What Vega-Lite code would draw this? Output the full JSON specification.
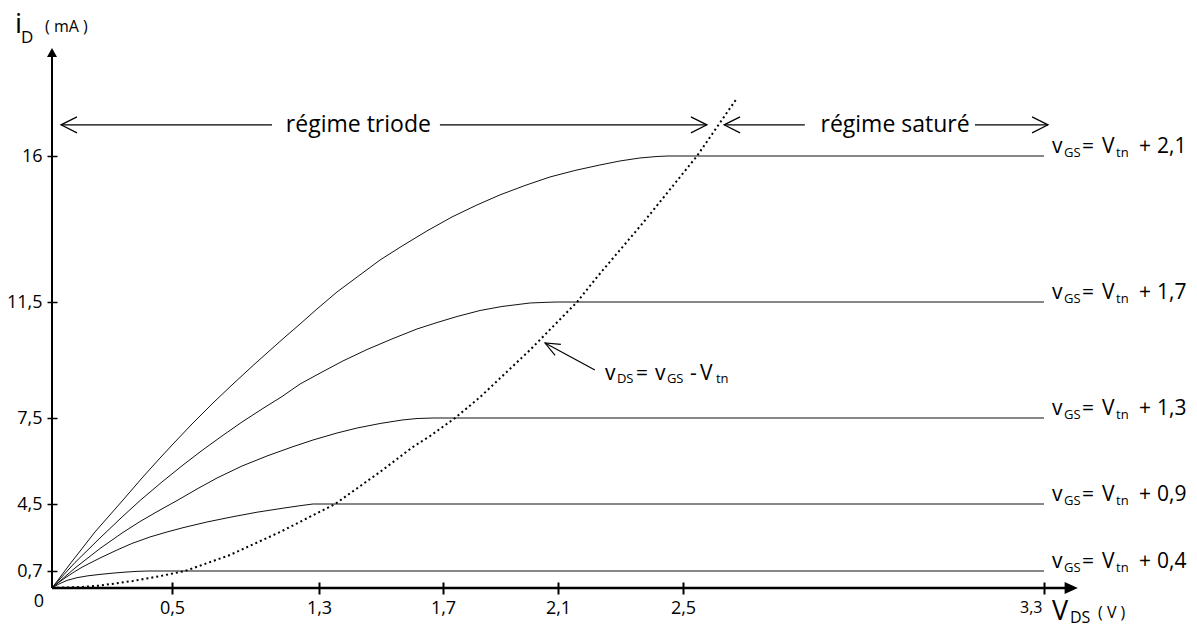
{
  "$schema": "https://vega.github.io/schema/vega-lite/v6.json",
  "width": 1145,
  "height": 588,
  "padding": {"left": 52, "right": 0, "top": 0, "bottom": 40},
  "autosize": {"type": "none"},
  "background": "white",
  "config": {"view": {"stroke": null}, "font": "Open Sans", "text": {"font": "Open Sans", "color": "black"}},
  "datasets": {
    "curves": [
      {"c": "0,4", "x": 0, "y": 0}, {"c": "0,4", "x": 0.029, "y": 0.165}, {"c": "0,4", "x": 0.0625, "y": 0.313}, {"c": "0,4", "x": 0.104, "y": 0.424}, {"c": "0,4", "x": 0.15, "y": 0.502}, {"c": "0,4", "x": 0.2, "y": 0.56}, {"c": "0,4", "x": 0.25, "y": 0.609}, {"c": "0,4", "x": 0.3, "y": 0.65}, {"c": "0,4", "x": 0.35, "y": 0.683}, {"c": "0,4", "x": 0.4, "y": 0.7}, {"c": "0,4", "x": 3.3, "y": 0.7},
      {"c": "0,9", "x": 0, "y": 0}, {"c": "0,9", "x": 0.025, "y": 0.206}, {"c": "0,9", "x": 0.054, "y": 0.412}, {"c": "0,9", "x": 0.092, "y": 0.659}, {"c": "0,9", "x": 0.129, "y": 0.944}, {"c": "0,9", "x": 0.2, "y": 1.437}, {"c": "0,9", "x": 0.271, "y": 1.891}, {"c": "0,9", "x": 0.333, "y": 2.26}, {"c": "0,9", "x": 0.408, "y": 2.629}, {"c": "0,9", "x": 0.479, "y": 2.912}, {"c": "0,9", "x": 0.56, "y": 3.156}, {"c": "0,9", "x": 0.69, "y": 3.479}, {"c": "0,9", "x": 0.832, "y": 3.78}, {"c": "0,9", "x": 0.963, "y": 4.035}, {"c": "0,9", "x": 1.104, "y": 4.262}, {"c": "0,9", "x": 1.197, "y": 4.404}, {"c": "0,9", "x": 1.267, "y": 4.5}, {"c": "0,9", "x": 3.3, "y": 4.5},
      {"c": "1,3", "x": 0, "y": 0}, {"c": "1,3", "x": 0.05, "y": 0.432}, {"c": "1,3", "x": 0.096, "y": 0.87}, {"c": "1,3", "x": 0.2, "y": 1.976}, {"c": "1,3", "x": 0.292, "y": 2.855}, {"c": "1,3", "x": 0.367, "y": 3.508}, {"c": "1,3", "x": 0.45, "y": 4.16}, {"c": "1,3", "x": 0.533, "y": 4.64}, {"c": "1,3", "x": 0.636, "y": 5.023}, {"c": "1,3", "x": 0.745, "y": 5.407}, {"c": "1,3", "x": 0.881, "y": 5.825}, {"c": "1,3", "x": 1.017, "y": 6.174}, {"c": "1,3", "x": 1.153, "y": 6.488}, {"c": "1,3", "x": 1.267, "y": 6.732}, {"c": "1,3", "x": 1.358, "y": 6.976}, {"c": "1,3", "x": 1.423, "y": 7.151}, {"c": "1,3", "x": 1.497, "y": 7.308}, {"c": "1,3", "x": 1.568, "y": 7.43}, {"c": "1,3", "x": 1.616, "y": 7.482}, {"c": "1,3", "x": 1.668, "y": 7.5}, {"c": "1,3", "x": 3.3, "y": 7.5},
      {"c": "1,7", "x": 0, "y": 0}, {"c": "1,7", "x": 0.05, "y": 0.556}, {"c": "1,7", "x": 0.096, "y": 1.182}, {"c": "1,7", "x": 0.2, "y": 2.572}, {"c": "1,7", "x": 0.292, "y": 3.763}, {"c": "1,7", "x": 0.367, "y": 4.622}, {"c": "1,7", "x": 0.458, "y": 5.267}, {"c": "1,7", "x": 0.56, "y": 5.86}, {"c": "1,7", "x": 0.663, "y": 6.366}, {"c": "1,7", "x": 0.772, "y": 6.872}, {"c": "1,7", "x": 0.881, "y": 7.36}, {"c": "1,7", "x": 0.99, "y": 7.81}, {"c": "1,7", "x": 1.099, "y": 8.241}, {"c": "1,7", "x": 1.197, "y": 8.672}, {"c": "1,7", "x": 1.31, "y": 9.086}, {"c": "1,7", "x": 1.377, "y": 9.466}, {"c": "1,7", "x": 1.455, "y": 9.862}, {"c": "1,7", "x": 1.539, "y": 10.241}, {"c": "1,7", "x": 1.616, "y": 10.569}, {"c": "1,7", "x": 1.681, "y": 10.793}, {"c": "1,7", "x": 1.749, "y": 11.0}, {"c": "1,7", "x": 1.829, "y": 11.207}, {"c": "1,7", "x": 1.905, "y": 11.345}, {"c": "1,7", "x": 2.003, "y": 11.466}, {"c": "1,7", "x": 2.062, "y": 11.49}, {"c": "1,7", "x": 2.097, "y": 11.5}, {"c": "1,7", "x": 3.3, "y": 11.5},
      {"c": "2,1", "x": 0, "y": 0}, {"c": "2,1", "x": 0.075, "y": 1.097}, {"c": "2,1", "x": 0.179, "y": 2.912}, {"c": "2,1", "x": 0.296, "y": 4.64}, {"c": "2,1", "x": 0.375, "y": 5.407}, {"c": "2,1", "x": 0.45, "y": 6.104}, {"c": "2,1", "x": 0.516, "y": 6.663}, {"c": "2,1", "x": 0.614, "y": 7.325}, {"c": "2,1", "x": 0.723, "y": 8.017}, {"c": "2,1", "x": 0.832, "y": 8.672}, {"c": "2,1", "x": 0.941, "y": 9.31}, {"c": "2,1", "x": 1.017, "y": 9.741}, {"c": "2,1", "x": 1.115, "y": 10.293}, {"c": "2,1", "x": 1.197, "y": 10.741}, {"c": "2,1", "x": 1.289, "y": 11.259}, {"c": "2,1", "x": 1.358, "y": 11.808}, {"c": "2,1", "x": 1.423, "y": 12.271}, {"c": "2,1", "x": 1.497, "y": 12.795}, {"c": "2,1", "x": 1.568, "y": 13.226}, {"c": "2,1", "x": 1.648, "y": 13.689}, {"c": "2,1", "x": 1.731, "y": 14.12}, {"c": "2,1", "x": 1.818, "y": 14.49}, {"c": "2,1", "x": 1.898, "y": 14.8}, {"c": "2,1", "x": 1.985, "y": 15.091}, {"c": "2,1", "x": 2.072, "y": 15.353}, {"c": "2,1", "x": 2.154, "y": 15.554}, {"c": "2,1", "x": 2.234, "y": 15.723}, {"c": "2,1", "x": 2.298, "y": 15.846}, {"c": "2,1", "x": 2.362, "y": 15.939}, {"c": "2,1", "x": 2.417, "y": 15.985}, {"c": "2,1", "x": 2.452, "y": 16}, {"c": "2,1", "x": 3.3, "y": 16}
    ],
    "boundary": [
      {"x": 0, "y": 0}, {"x": 0.117, "y": 0.04}, {"x": 0.2, "y": 0.1}, {"x": 0.3375, "y": 0.29}, {"x": 0.45, "y": 0.49}, {"x": 0.571, "y": 0.7}, {"x": 0.816, "y": 1.61}, {"x": 1.088, "y": 2.91}, {"x": 1.352, "y": 4.5}, {"x": 1.497, "y": 5.62}, {"x": 1.603, "y": 6.49}, {"x": 1.658, "y": 6.87}, {"x": 1.742, "y": 7.5}, {"x": 1.829, "y": 8.22}, {"x": 2.003, "y": 9.85}, {"x": 2.161, "y": 11.5}, {"x": 2.225, "y": 12.27}, {"x": 2.372, "y": 13.94}, {"x": 2.531, "y": 16}, {"x": 2.617, "y": 17.73}
    ],
    "labels": [
      {"lvl": 0.7, "n": "0,4"}, {"lvl": 4.5, "n": "0,9"}, {"lvl": 7.5, "n": "1,3"}, {"lvl": 11.5, "n": "1,7"}, {"lvl": 16, "n": "2,1"}
    ],
    "segs": [
      {"a": 0.0375, "b": 1.044}, {"a": 1.69, "b": 2.553}, {"a": 2.591, "b": 2.77}, {"a": 3.147, "b": 3.309}
    ],
    "heads": [
      {"x": 0.0375, "dir": "left"}, {"x": 2.553, "dir": "right"}, {"x": 2.591, "dir": "left"}, {"x": 3.309, "dir": "right"}
    ],
    "regimes": [
      {"x": 1.427, "t": "régime triode"}, {"x": 2.97, "t": "régime saturé"}
    ],
    "one": [{}]
  },
  "layer": [
    {
      "data": {"name": "curves"},
      "mark": {"type": "line", "color": "#111111", "strokeWidth": 1},
      "encoding": {
        "x": {"field": "x", "type": "quantitative",
          "scale": {"domain": [0, 0.5, 1.3, 1.7, 2.1, 2.5, 3.3], "range": [0, 120, 267, 391, 506, 631, 992], "zero": false, "nice": false},
          "axis": {"values": [0.5, 1.3, 1.7, 2.1, 2.5, 3.3], "orient": "bottom", "offset": -6, "tickSize": 12, "tickWidth": 2, "tickColor": "black", "domain": false, "grid": false, "labelExpr": "datum.value == 3.3 ? '' : replace(toString(datum.value), '.', ',')", "labelFont": "Open Sans", "labelFontSize": 18, "labelColor": "black", "labelPadding": 5, "labelFlush": false, "labelOverlap": false, "title": null}},
        "y": {"field": "y", "type": "quantitative",
          "scale": {"domain": [0, 0.7, 4.5, 7.5, 11.5, 16], "range": [588, 571, 504, 418, 302, 156], "zero": false, "nice": false},
          "axis": {"values": [0.7, 4.5, 7.5, 11.5, 16], "orient": "left", "offset": -5, "tickSize": 10, "tickWidth": 1.5, "tickColor": "black", "domain": false, "grid": false, "labelExpr": "replace(toString(datum.value), '.', ',')", "labelFont": "Open Sans", "labelFontSize": 18, "labelColor": "black", "labelPadding": 5, "labelFlush": false, "labelOverlap": false, "title": null}},
        "detail": {"field": "c", "type": "nominal"}
      }
    },
    {
      "data": {"name": "boundary"},
      "mark": {"type": "line", "color": "black", "strokeWidth": 2, "strokeDash": [2, 3]},
      "encoding": {"x": {"field": "x", "type": "quantitative"}, "y": {"field": "y", "type": "quantitative"}}
    },
    {
      "data": {"name": "one"},
      "mark": {"type": "rule", "color": "black", "strokeWidth": 2.5},
      "encoding": {"x": {"datum": 0, "type": "quantitative"}, "x2": {"datum": 3.36}, "y": {"datum": 0, "type": "quantitative"}}
    },
    {
      "data": {"name": "one"},
      "mark": {"type": "rule", "color": "black", "strokeWidth": 2},
      "encoding": {"x": {"datum": 0, "type": "quantitative"}, "y": {"datum": 0, "type": "quantitative"}, "y2": {"datum": 19.2}}
    },
    {
      "data": {"name": "one"},
      "mark": {"type": "point", "shape": "M0,0L-2.2,-1L-2.2,1Z", "size": 144, "filled": true, "color": "black", "opacity": 1},
      "encoding": {"x": {"datum": 3.375, "type": "quantitative"}, "y": {"datum": 0, "type": "quantitative"}}
    },
    {
      "data": {"name": "one"},
      "mark": {"type": "point", "shape": "M0,0L-1,1.8L1,1.8Z", "size": 100, "filled": true, "color": "black", "opacity": 1},
      "encoding": {"x": {"datum": 0, "type": "quantitative"}, "y": {"datum": 19.33, "type": "quantitative"}}
    },
    {
      "data": {"name": "segs"},
      "mark": {"type": "rule", "color": "black", "strokeWidth": 1.2},
      "encoding": {"x": {"field": "a", "type": "quantitative"}, "x2": {"field": "b"}, "y": {"datum": 16.96, "type": "quantitative"}}
    },
    {
      "data": {"name": "heads"},
      "mark": {"type": "point", "size": 256, "filled": false, "color": "black", "strokeWidth": 1.2, "opacity": 1},
      "encoding": {
        "x": {"field": "x", "type": "quantitative"},
        "y": {"datum": 16.96, "type": "quantitative"},
        "shape": {"field": "dir", "type": "nominal", "scale": {"domain": ["left", "right"], "range": ["M2,-1L0,0L2,1", "M-2,-1L0,0L-2,1"]}, "legend": null}
      }
    },
    {
      "data": {"name": "regimes"},
      "mark": {"type": "text", "fontSize": 23, "align": "center", "baseline": "middle", "font": "Open Sans"},
      "encoding": {"x": {"field": "x", "type": "quantitative"}, "y": {"datum": 16.96, "type": "quantitative"}, "text": {"field": "t"}}
    },
    {
      "data": {"name": "one"},
      "mark": {"type": "rule", "color": "black", "strokeWidth": 1.2},
      "encoding": {"x": {"datum": 2.055, "type": "quantitative"}, "y": {"datum": 10.086, "type": "quantitative"}, "x2": {"datum": 2.218}, "y2": {"datum": 9.155}}
    },
    {
      "data": {"name": "one"},
      "mark": {"type": "point", "shape": "M1.9,-0.8L0,0L1.9,0.8", "size": 237, "angle": 28, "filled": false, "color": "black", "strokeWidth": 1.2, "opacity": 1},
      "encoding": {"x": {"datum": 2.055, "type": "quantitative"}, "y": {"datum": 10.086, "type": "quantitative"}}
    },
    {"data": {"name": "one"}, "mark": {"type": "text", "text": "v", "fontSize": 21, "align": "left", "baseline": "alphabetic", "dx": 10, "dy": 10}, "encoding": {"x": {"datum": 2.218, "type": "quantitative"}, "y": {"datum": 9.155, "type": "quantitative"}}},
    {"data": {"name": "one"}, "mark": {"type": "text", "text": "DS", "fontSize": 13, "align": "left", "baseline": "alphabetic", "dx": 22, "dy": 13}, "encoding": {"x": {"datum": 2.218, "type": "quantitative"}, "y": {"datum": 9.155, "type": "quantitative"}}},
    {"data": {"name": "one"}, "mark": {"type": "text", "text": "=", "fontSize": 21, "align": "left", "baseline": "alphabetic", "dx": 41, "dy": 10}, "encoding": {"x": {"datum": 2.218, "type": "quantitative"}, "y": {"datum": 9.155, "type": "quantitative"}}},
    {"data": {"name": "one"}, "mark": {"type": "text", "text": "v", "fontSize": 21, "align": "left", "baseline": "alphabetic", "dx": 60, "dy": 10}, "encoding": {"x": {"datum": 2.218, "type": "quantitative"}, "y": {"datum": 9.155, "type": "quantitative"}}},
    {"data": {"name": "one"}, "mark": {"type": "text", "text": "GS", "fontSize": 13, "align": "left", "baseline": "alphabetic", "dx": 72, "dy": 13}, "encoding": {"x": {"datum": 2.218, "type": "quantitative"}, "y": {"datum": 9.155, "type": "quantitative"}}},
    {"data": {"name": "one"}, "mark": {"type": "text", "text": "-", "fontSize": 21, "align": "left", "baseline": "alphabetic", "dx": 95, "dy": 10}, "encoding": {"x": {"datum": 2.218, "type": "quantitative"}, "y": {"datum": 9.155, "type": "quantitative"}}},
    {"data": {"name": "one"}, "mark": {"type": "text", "text": "V", "fontSize": 21, "align": "left", "baseline": "alphabetic", "dx": 105, "dy": 10}, "encoding": {"x": {"datum": 2.218, "type": "quantitative"}, "y": {"datum": 9.155, "type": "quantitative"}}},
    {"data": {"name": "one"}, "mark": {"type": "text", "text": "tn", "fontSize": 13, "align": "left", "baseline": "alphabetic", "dx": 121, "dy": 13}, "encoding": {"x": {"datum": 2.218, "type": "quantitative"}, "y": {"datum": 9.155, "type": "quantitative"}}},
    {"data": {"name": "labels"}, "mark": {"type": "text", "text": "v", "fontSize": 21, "align": "left", "baseline": "alphabetic", "dx": 8, "dy": -3}, "encoding": {"x": {"datum": 3.3, "type": "quantitative"}, "y": {"field": "lvl", "type": "quantitative"}}},
    {"data": {"name": "labels"}, "mark": {"type": "text", "text": "GS", "fontSize": 13, "align": "left", "baseline": "alphabetic", "dx": 20, "dy": 1}, "encoding": {"x": {"datum": 3.3, "type": "quantitative"}, "y": {"field": "lvl", "type": "quantitative"}}},
    {"data": {"name": "labels"}, "mark": {"type": "text", "text": "=", "fontSize": 21, "align": "left", "baseline": "alphabetic", "dx": 38, "dy": -3}, "encoding": {"x": {"datum": 3.3, "type": "quantitative"}, "y": {"field": "lvl", "type": "quantitative"}}},
    {"data": {"name": "labels"}, "mark": {"type": "text", "text": "V", "fontSize": 21, "align": "left", "baseline": "alphabetic", "dx": 58, "dy": -3}, "encoding": {"x": {"datum": 3.3, "type": "quantitative"}, "y": {"field": "lvl", "type": "quantitative"}}},
    {"data": {"name": "labels"}, "mark": {"type": "text", "text": "tn", "fontSize": 13, "align": "left", "baseline": "alphabetic", "dx": 72, "dy": 1}, "encoding": {"x": {"datum": 3.3, "type": "quantitative"}, "y": {"field": "lvl", "type": "quantitative"}}},
    {"data": {"name": "labels"}, "mark": {"type": "text", "text": "+", "fontSize": 21, "align": "left", "baseline": "alphabetic", "dx": 95, "dy": -3}, "encoding": {"x": {"datum": 3.3, "type": "quantitative"}, "y": {"field": "lvl", "type": "quantitative"}}},
    {"data": {"name": "labels"}, "mark": {"type": "text", "fontSize": 21, "align": "left", "baseline": "alphabetic", "dx": 113, "dy": -3}, "encoding": {"x": {"datum": 3.3, "type": "quantitative"}, "y": {"field": "lvl", "type": "quantitative"}, "text": {"field": "n"}}},
    {"data": {"name": "one"}, "mark": {"type": "text", "text": "i", "fontSize": 28, "align": "left", "baseline": "alphabetic", "dx": -37, "dy": -15}, "encoding": {"x": {"datum": 0, "type": "quantitative"}, "y": {"datum": 19.33, "type": "quantitative"}}},
    {"data": {"name": "one"}, "mark": {"type": "text", "text": "D", "fontSize": 17, "align": "left", "baseline": "alphabetic", "dx": -31, "dy": -5}, "encoding": {"x": {"datum": 0, "type": "quantitative"}, "y": {"datum": 19.33, "type": "quantitative"}}},
    {"data": {"name": "one"}, "mark": {"type": "text", "text": "( mA )", "fontSize": 16, "align": "left", "baseline": "alphabetic", "dx": -7, "dy": -16}, "encoding": {"x": {"datum": 0, "type": "quantitative"}, "y": {"datum": 19.33, "type": "quantitative"}}},
    {"data": {"name": "one"}, "mark": {"type": "text", "text": "V", "fontSize": 27, "align": "left", "baseline": "alphabetic", "dx": 8, "dy": 32}, "encoding": {"x": {"datum": 3.3, "type": "quantitative"}, "y": {"datum": 0, "type": "quantitative"}}},
    {"data": {"name": "one"}, "mark": {"type": "text", "text": "DS", "fontSize": 16, "align": "left", "baseline": "alphabetic", "dx": 26, "dy": 35}, "encoding": {"x": {"datum": 3.3, "type": "quantitative"}, "y": {"datum": 0, "type": "quantitative"}}},
    {"data": {"name": "one"}, "mark": {"type": "text", "text": "( V )", "fontSize": 16, "align": "left", "baseline": "alphabetic", "dx": 54, "dy": 30}, "encoding": {"x": {"datum": 3.3, "type": "quantitative"}, "y": {"datum": 0, "type": "quantitative"}}},
    {"data": {"name": "one"}, "mark": {"type": "text", "text": "3,3", "fontSize": 16, "align": "left", "baseline": "alphabetic", "dx": -24, "dy": 25}, "encoding": {"x": {"datum": 3.3, "type": "quantitative"}, "y": {"datum": 0, "type": "quantitative"}}},
    {"data": {"name": "one"}, "mark": {"type": "text", "text": "0", "fontSize": 18, "align": "right", "baseline": "alphabetic", "dx": -8, "dy": 19}, "encoding": {"x": {"datum": 0, "type": "quantitative"}, "y": {"datum": 0, "type": "quantitative"}}}
  ]
}
